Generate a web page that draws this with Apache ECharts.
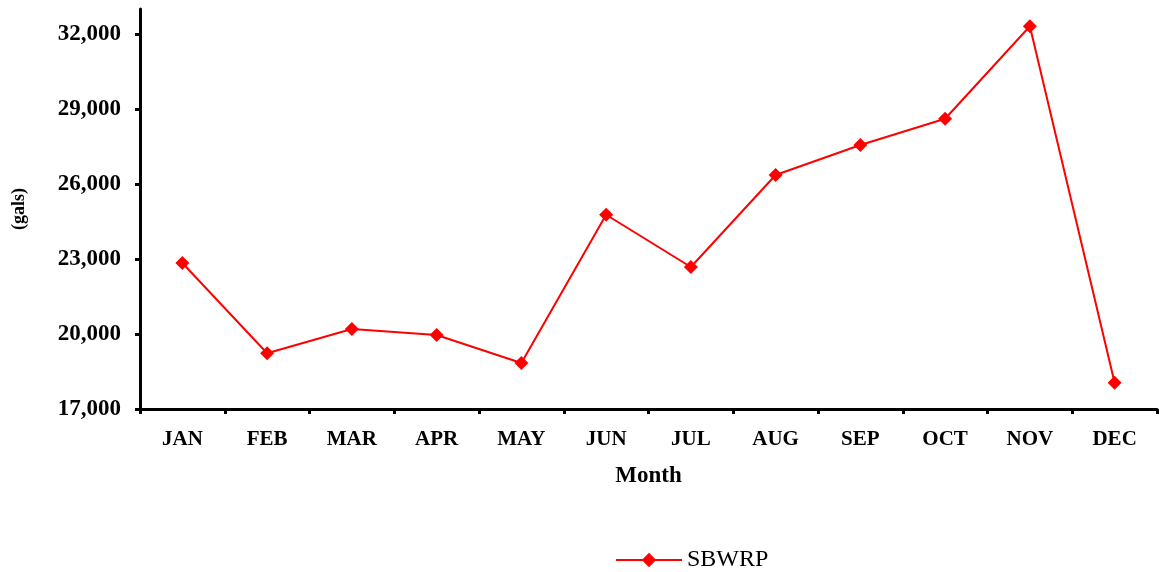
<!DOCTYPE html>
<html><head><meta charset="utf-8">
<script src="https://cdn.jsdelivr.net/npm/echarts@6/dist/echarts.min.js"></script>
<style>html,body{margin:0;padding:0;background:#fff}#c{width:1159px;height:572px}</style>
</head><body><div id="c"></div>
<script>
const months = ['JAN','FEB','MAR','APR','MAY','JUN','JUL','AUG','SEP','OCT','NOV','DEC'];
const sbwrp = [22840, 19230, 20200, 19960, 18840, 24770, 22680, 26360, 27560, 28610, 32310, 18050];
const yTicks = [17000, 20000, 23000, 26000, 29000, 32000];
const chart = echarts.init(document.getElementById('c'));
const serif = '"Liberation Serif","Times New Roman",serif';
chart.setOption({
  animation: false,
  grid: {left: 140, right: 2, top: 9, bottom: 163, containLabel: false, outerBoundsMode: 'none'},
  legend: {
    top: 543, left: 610, itemWidth: 66, itemHeight: 18, itemGap: 10,
    textStyle: {fontFamily: serif, fontSize: 24, color: '#000', padding: [0,0,0,0]},
    data: ['SBWRP']
  },
  xAxis: {
    type: 'category', data: months, boundaryGap: true,
    name: 'Month', nameLocation: 'middle', nameGap: 56,
    nameTextStyle: {fontFamily: serif, fontWeight: 'bold', fontSize: 23, color: '#000'},
    axisLine: {lineStyle: {color: '#000', width: 3}},
    axisTick: {show: true, length: 5, lineStyle: {color: '#000', width: 3}},
    axisLabel: {fontFamily: serif, fontWeight: 'bold', fontSize: 21, color: '#000', margin: 20}
  },
  yAxis: {
    type: 'value', min: 17000, max: 33000,
    name: '(gals)', nameLocation: 'middle', nameGap: 112, nameRotate: 90,
    nameTextStyle: {fontFamily: serif, fontWeight: 'bold', fontSize: 18, color: '#000'},
    splitLine: {show: false},
    axisLine: {show: true, lineStyle: {color: '#000', width: 3}},
    axisTick: {show: true, length: 5, customValues: yTicks, lineStyle: {color: '#000', width: 3}},
    axisLabel: {fontFamily: serif, fontWeight: 'bold', fontSize: 23, color: '#000', margin: 19,
      customValues: yTicks,
      formatter: v => v.toLocaleString('en-US')}
  },
  series: [{
    name: 'SBWRP', type: 'line', data: sbwrp,
    symbol: 'diamond', symbolSize: 14,
    lineStyle: {color: '#ff0000', width: 2},
    itemStyle: {color: '#ff0000'}
  }]
});
</script></body></html>
